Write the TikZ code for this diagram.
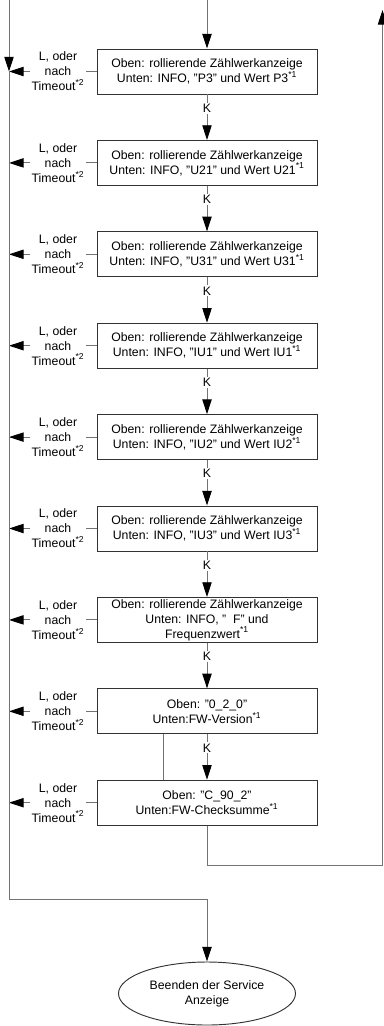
\documentclass[tikz,border=0pt]{standalone}
\usepackage{fontspec}
\setmainfont{Liberation Sans}
\usetikzlibrary{shapes.geometric, arrows.meta, positioning, chains}

\begin{document}
\begin{tikzpicture}[x=0.75pt, y=-0.75pt,
    >={Triangle[length=11pt, width=7pt, color=black]},
    font=\fontsize{9.2}{11.2}\selectfont,
    wire/.style={draw=black!55, line width=0.7pt},
    disp/.style={draw=black!80, line width=0.7pt, align=center, minimum width=165pt, minimum height=33.75pt, inner ysep=1pt},
    klbl/.style={fill=white, inner sep=1pt},
    tlbl/.style={fill=white, align=center, inner xsep=1.5pt, inner ysep=0pt}]

    \useasboundingbox (0,0) rectangle (383,1026);

    \begin{scope}[start chain=going below, node distance = 34.1pt, every node/.style={disp, on chain}]
        \node at (207,71.5) (disp0) {Oben: rollierende Zählwerkanzeige \\ Unten: INFO, "P3" und Wert P3\textsuperscript{*1}};
        \node (disp1) {Oben: rollierende Zählwerkanzeige \\ Unten: INFO, "U21" und Wert U21\textsuperscript{*1}};
        \node (disp2) {Oben: rollierende Zählwerkanzeige \\ Unten: INFO, "U31" und Wert U31\textsuperscript{*1}};
        \node (disp3) {Oben: rollierende Zählwerkanzeige \\ Unten: INFO, "IU1" und Wert IU1\textsuperscript{*1}};
        \node (disp4) {Oben: rollierende Zählwerkanzeige \\ Unten: INFO, "IU2" und Wert IU2\textsuperscript{*1}};
        \node (disp5) {Oben: rollierende Zählwerkanzeige \\ Unten: INFO, "IU3" und Wert IU3\textsuperscript{*1}};
        \node (disp6) {Oben: rollierende Zählwerkanzeige \\ Unten: INFO, "\ \ F" und \\ Frequenzwert\textsuperscript{*1}};
        \node (disp7) {Oben: "0\_2\_0" \\ Unten:FW-Version\textsuperscript{*1}};
        \node (disp8) {Oben: "C\_90\_2" \\ Unten:FW-Checksumme\textsuperscript{*1}};
    \end{scope}

    \node[ellipse, draw=black!80, line width=0.7pt, align=center, minimum width=132.75pt, minimum height=47.25pt, inner sep=0pt] at (207,993.5) (finish) {Beenden der Service \\ Anzeige};

    \coordinate (entry) at (207,0);
    \coordinate (lefttop) at (9,0);
    \coordinate (leftbot) at (9,899);
    \coordinate (retcorner) at (382.5,865);
    \coordinate (rettop) at (382.5,10);

    \draw[wire, ->] (entry) -- (disp0.north);

    \foreach \i [evaluate=\i as \j using int(\i+1)] in {0,...,7}
        \draw[wire, ->] (disp\i.south) -- node[pos=0.3, klbl] {K} (disp\j.north);

    \foreach \i in {0,...,8}
        \draw[wire, ->] (disp\i.west) -- node[pos=0.44, tlbl] {L, oder \\ nach \\ Timeout\textsuperscript{*2}} (disp\i.west -| lefttop);

    \draw[wire, ->] (lefttop) -- (lefttop |- disp0.west);
    \draw[wire, ->] (lefttop |- disp0.west) -- (leftbot) -| (finish.north);

    \draw[wire] ([xshift=-33pt] disp7.south) -- ([xshift=-33pt] disp8.north);
    \draw[wire, ->] (disp8.south) |- (retcorner) -- (rettop);

\end{tikzpicture}
\end{document}
